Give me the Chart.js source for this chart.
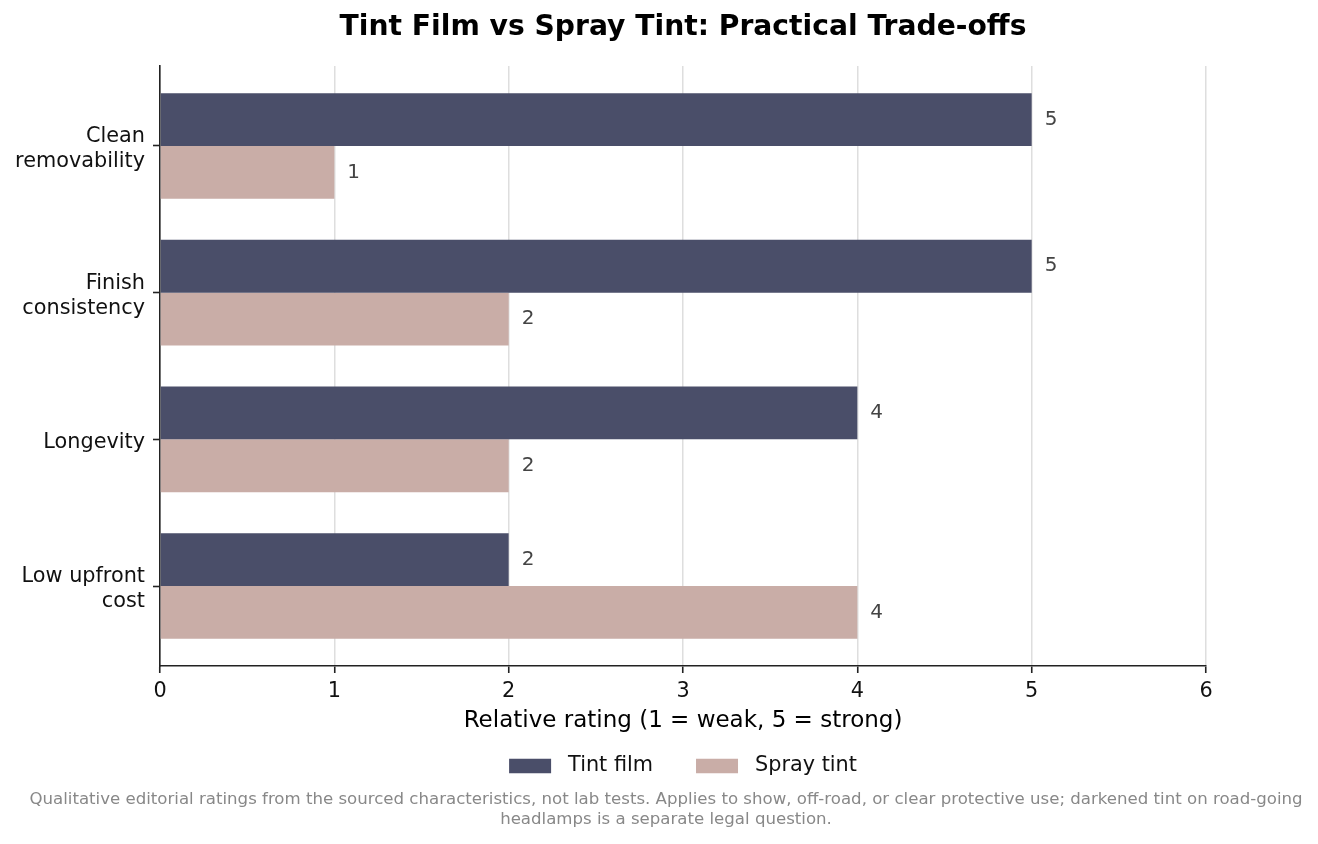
<!DOCTYPE html>
<html>
<head>
<meta charset="utf-8">
<title>Tint Film vs Spray Tint</title>
<script src="https://cdn.jsdelivr.net/npm/chart.js@4.4.1/dist/chart.umd.min.js"></script>
<style>
  html, body { margin: 0; padding: 0; background: #fff; overflow: hidden; }
  #wrap { position: relative; width: 1318px; height: 844px; }
</style>
</head>
<body>
<div id="wrap"><canvas id="chart"></canvas></div>
<script>
// data
const categories = [['Clean', 'removability'], ['Finish', 'consistency'], ['Longevity'], ['Low upfront', 'cost']];
const tintFilm = [5, 5, 4, 2];
const sprayTint = [1, 2, 2, 4];
const xTicks = [0, 1, 2, 3, 4, 5, 6];
const seriesNames = ['Tint film', 'Spray tint'];
const seriesColors = ['#4a4e69', '#c9ada7'];
const chartTitle = 'Tint Film vs Spray Tint: Practical Trade-offs';
const xTitle = 'Relative rating (1 = weak, 5 = strong)';
const footnote = [
  'Qualitative editorial ratings from the sourced characteristics, not lab tests. Applies to show, off-road, or clear protective use; darkened tint on road-going',
  'headlamps is a separate legal question.'
];

const FONT = '"DejaVu Sans", Verdana, sans-serif';
const ctx = document.getElementById('chart').getContext('2d');

// numbers at the end of each bar
const valueLabels = {
  id: 'valueLabels',
  afterDatasetsDraw(chart) {
    const c = chart.ctx;
    c.save();
    c.font = '20px ' + FONT;
    c.fillStyle = '#444';
    c.textBaseline = 'middle';
    c.textAlign = 'left';
    chart.data.datasets.forEach((ds, di) => {
      chart.getDatasetMeta(di).data.forEach((bar, i) => {
        c.fillText(String(ds.data[i].x), bar.x + 13, bar.y);
      });
    });
    c.restore();
  }
};

// title, legend and footnote, centred like the reference
const decorations = {
  id: 'decorations',
  afterDraw(chart) {
    const c = chart.ctx;
    const area = chart.chartArea;
    const mid = (area.left + area.right) / 2;
    c.save();

    c.font = 'bold 28.2px ' + FONT;
    c.fillStyle = '#000';
    c.textAlign = 'center';
    c.textBaseline = 'middle';
    c.fillText(chartTitle, mid, 28);

    // legend
    c.font = '20.8px ' + FONT;
    c.textAlign = 'left';
    const boxW = 42, boxH = 14.5, gapText = 17, gapItem = 43;
    const widths = seriesNames.map(n => c.measureText(n).width);
    let total = 0;
    widths.forEach((w, i) => { total += boxW + gapText + w + (i < widths.length - 1 ? gapItem : 0); });
    let x = mid - total / 2;
    const ly = 766;
    seriesNames.forEach((name, i) => {
      c.fillStyle = seriesColors[i];
      c.fillRect(x, ly - boxH / 2, boxW, boxH);
      c.fillStyle = '#111';
      c.fillText(name, x + boxW + gapText, ly);
      x += boxW + gapText + widths[i] + gapItem;
    });

    // footnote
    c.font = '16.6px ' + FONT;
    c.fillStyle = '#888';
    c.textAlign = 'center';
    c.fillText(footnote[0], 666, 800);
    c.fillText(footnote[1], 666, 820);
    c.restore();
  }
};

new Chart(ctx, {
  type: 'bar',
  data: {
    datasets: [
      {
        label: seriesNames[0],
        data: tintFilm.map((v, i) => ({ x: v, y: i })),
        backgroundColor: seriesColors[0]
      },
      {
        label: seriesNames[1],
        data: sprayTint.map((v, i) => ({ x: v, y: i })),
        backgroundColor: seriesColors[1]
      }
    ]
  },
  options: {
    indexAxis: 'y',
    responsive: true,
    maintainAspectRatio: false,
    animation: false,
    categoryPercentage: 0.72,
    barPercentage: 1.0,
    layout: { padding: { top: 66, left: 0, right: 112, bottom: 109.2 } },
    plugins: {
      legend: { display: false },
      title: { display: false },
      tooltip: { enabled: false }
    },
    scales: {
      x: {
        type: 'linear',
        min: 0,
        max: 6,
        afterBuildTicks: scale => { scale.ticks = xTicks.map(v => ({ value: v })); },
        afterFit: scale => { scale.height = 68.8; },
        ticks: { font: { family: FONT, size: 20.8 }, color: '#111', padding: 6 },
        grid: { color: '#dedede', lineWidth: 1.5, tickColor: '#222', tickLength: 7, tickWidth: 1.6 },
        border: { display: true, color: '#222', width: 1.6 },
        title: {
          display: true,
          text: xTitle,
          color: '#000',
          font: { family: FONT, size: 23 },
          padding: { top: 0, bottom: 0 }
        }
      },
      y: {
        type: 'linear',
        reverse: true,
        offset: false,
        min: -0.545,
        max: 3.545,
        afterBuildTicks: scale => { scale.ticks = categories.map((c, i) => ({ value: i })); },
        afterFit: scale => { scale.width = 160; },
        ticks: {
          font: { family: FONT, size: 20.8 },
          color: '#111',
          padding: 8,
          labelOffset: 3,
          callback: value => categories[value]
        },
        grid: { offset: false, drawOnChartArea: false, tickColor: '#222', tickLength: 7, tickWidth: 1.6 },
        border: { display: true, color: '#222', width: 1.6 }
      }
    }
  },
  plugins: [valueLabels, decorations]
});
</script>
</body>
</html>
